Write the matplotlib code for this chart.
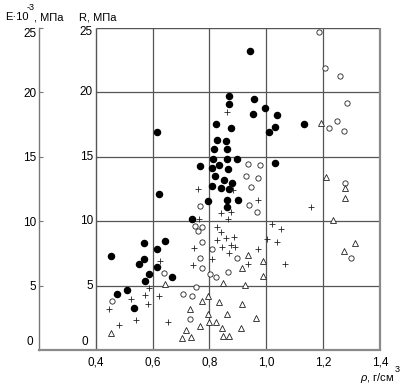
import matplotlib.pyplot as plt
import matplotlib.transforms as mtransforms

plt.rcParams['font.family'] = ['Liberation Sans', 'DejaVu Sans']
plt.rcParams['mathtext.fontset'] = 'custom'
plt.rcParams['mathtext.rm'] = 'Liberation Sans'
plt.rcParams['mathtext.it'] = 'Liberation Sans:italic'

# filled circles
dot_rho = [0.944, 0.870, 0.868, 0.614, 0.822, 0.876, 0.826, 0.858, 0.816, 0.860,
           0.811, 0.862, 0.896, 0.768, 0.809, 0.835, 0.866, 0.819, 0.850, 0.880,
           0.809, 0.840, 0.867, 0.622, 0.794, 0.862, 0.899, 0.861, 0.738, 0.455,
           0.571, 0.643, 0.615, 0.571, 0.551, 0.614, 0.588, 0.669, 0.574, 0.511,
           0.475, 0.533, 0.958, 0.995, 0.953, 1.039, 1.032, 1.133, 1.009, 1.030]
dot_val = [23.2, 19.7, 19.1, 16.96, 17.56, 17.25, 16.34, 16.2, 15.6, 15.6,
           14.8, 14.8, 14.8, 14.25, 14.1, 14.4, 14.06, 13.5, 13.2, 12.95,
           12.74, 12.56, 12.48, 12.1, 11.53, 11.65, 11.65, 11.1, 10.18, 7.33,
           8.34, 8.5, 7.87, 7.1, 6.66, 6.45, 5.88, 5.64, 5.34, 4.66,
           4.33, 3.29, 19.48, 18.78, 18.31, 18.21, 17.35, 17.56, 16.91, 14.48]

# open circles
ring_rho = [1.186, 1.206, 1.260, 1.284, 1.250, 1.219, 1.275, 0.937, 0.978, 0.930,
            0.971, 0.945, 0.940, 0.967, 1.276, 1.299, 0.897, 0.766, 0.748, 0.774,
            0.761, 0.772, 0.808, 0.765, 0.773, 0.865, 0.801, 0.639, 0.822, 0.752,
            0.708, 0.737, 0.458, 0.732]
ring_val = [24.68, 21.9, 21.3, 19.14, 17.77, 17.2, 17.0, 14.45, 14.37, 13.49,
            13.34, 12.67, 11.29, 10.72, 13.0, 7.15, 7.17, 11.21, 9.63, 9.57,
            9.25, 8.37, 7.85, 7.17, 6.4, 6.04, 5.88, 5.98, 5.64, 4.87,
            4.33, 4.22, 3.81, 2.41]

# crosses
plus_rho = [0.862, 0.760, 0.882, 0.971, 1.158, 0.839, 0.874, 0.763, 0.864, 0.827,
            0.841, 0.828, 0.858, 0.885, 0.747, 0.844, 0.874, 0.891, 0.868, 0.809,
            0.741, 0.626, 1.021, 1.051, 1.004, 1.038, 1.067, 0.971, 0.934, 0.587,
            0.573, 0.621, 0.523, 0.584, 0.445, 0.540, 0.655, 0.482]
plus_val = [18.5, 12.48, 12.43, 11.63, 11.1, 10.67, 10.70, 10.15, 10.15, 9.53,
            9.15, 8.55, 8.67, 8.75, 7.9, 7.98, 8.13, 7.98, 7.56, 7.07,
            6.58, 6.92, 9.77, 9.37, 8.65, 8.39, 6.71, 7.82, 6.68, 4.79,
            4.27, 4.2, 3.99, 3.57, 3.21, 2.3, 2.2, 1.97]

# triangles
tri_rho = [1.194, 1.209, 1.276, 1.278, 1.234, 1.312, 1.273, 0.934, 0.988, 0.915,
           0.987, 0.926, 0.849, 0.643, 0.913, 0.964, 0.910, 0.796, 0.773, 0.834,
           0.733, 0.860, 0.794, 0.766, 0.799, 0.822, 0.844, 0.718, 0.452, 0.702,
           0.736, 0.848, 0.870]
tri_val = [17.66, 13.47, 12.6, 11.8, 10.07, 8.34, 7.67, 7.36, 6.92, 6.34,
           5.72, 5.07, 5.23, 5.1, 3.57, 2.51, 1.73, 4.22, 3.78, 3.73,
           3.21, 2.77, 2.77, 1.89, 2.15, 2.2, 1.69, 1.53, 1.35, 0.93,
           1.04, 1.11, 1.11]

x_ticks = [0.4, 0.6, 0.8, 1.0, 1.2, 1.4]
x_labels = ['0,4', '0,6', '0,8', '1,0', '1,2', '1,4']
y_ticks = [5, 10, 15, 20, 25]

fig = plt.figure(figsize=(4.02, 3.86), dpi=100)
ax = fig.add_axes([39 / 402, 36 / 386, 341 / 402, 322 / 386])
ax.set_xlim(0.2, 1.4)
ax.set_ylim(0, 25)

grid_c = '#555555'
edge_c = '#8a8a8a'
ax.vlines([0.6, 0.8, 1.0, 1.2], 0, 25, color=grid_c, lw=0.9, zorder=1)
ax.vlines(0.4, 0, 25, color=grid_c, lw=1.0, zorder=1)
ax.hlines([5, 10, 15, 20], 0.4, 1.4, color=grid_c, lw=0.9, zorder=1)
ax.hlines(25, 0.4, 1.4, color=grid_c, lw=1.0, zorder=1)
ax.vlines(1.4, 0, 25, color=edge_c, lw=1.6, zorder=1, clip_on=False)

for s in ['top', 'right']:
    ax.spines[s].set_visible(False)
ax.spines['bottom'].set_color(edge_c)
ax.spines['bottom'].set_linewidth(1.6)
ax.spines['left'].set_color('#777777')
ax.spines['left'].set_linewidth(1.0)

ax.set_xticks(x_ticks)
ax.set_xticklabels(x_labels)
ax.set_yticks(y_ticks)
ax.set_yticklabels([str(v) for v in y_ticks])
ax.tick_params(axis='x', length=0, pad=5, labelsize=8.5)
ax.tick_params(axis='y', direction='in', length=3, pad=2, labelsize=8.5,
               color='#777777')

# nudge the top label down a little, as in the original
down = mtransforms.ScaledTranslation(0, -3 / 72, fig.dpi_scale_trans)
top_lab = ax.get_yticklabels()[-1]
top_lab.set_transform(top_lab.get_transform() + down)

# labels for the R axis, drawn next to the line at rho = 0.4
for v in y_ticks:
    t = ax.text(0.39, v, str(v), ha='right', va='center', fontsize=8.5)
    if v == 25:
        t.set_transform(ax.transData + down)
ax.text(0.372, 0.6, '0', ha='right', va='center', fontsize=8.5)
ax.text(0.179, 0.6, '0', ha='right', va='center', fontsize=8.5, clip_on=False)

mk = dict(ls='none', clip_on=False, zorder=3)
ax.plot(dot_rho, dot_val, marker='o', ms=4.4, mfc='black', mec='black', **mk)
ax.plot(ring_rho, ring_val, marker='o', ms=3.8, mfc='white', mec='#222222', mew=0.6, **mk)
ax.plot(plus_rho, plus_val, marker='+', ms=5, mec='#222222', mew=0.6, **mk)
ax.plot(tri_rho, tri_val, marker='^', ms=4, mfc='white', mec='#222222', mew=0.6, **mk)

ty = 1 - 17 / 386
fig.text(5 / 402, ty, 'E·10', fontsize=8, ha='left', va='center')
fig.text(27 / 402, 1 - 7 / 386, '-3', fontsize=6.5, ha='left', va='center')
fig.text(34 / 402, ty, ', МПа', fontsize=8, ha='left', va='center')
fig.text(79 / 402, ty, 'R, МПа', fontsize=8, ha='left', va='center')
fig.text(394 / 402, 1 - 378 / 386, r'$\it{\rho}$, г/см', fontsize=8,
         ha='right', va='center')
fig.text(395 / 402, 1 - 370 / 386, '3', fontsize=6.5, ha='left', va='center')

fig.savefig('out.png', dpi=100)
